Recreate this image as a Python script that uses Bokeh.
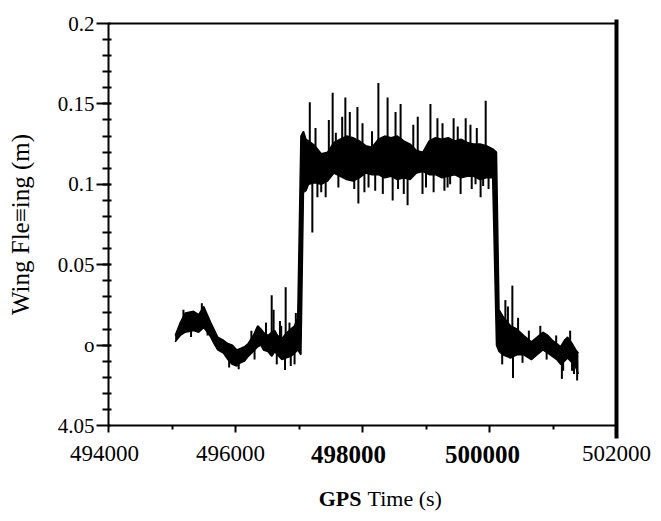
import numpy as np
from bokeh.plotting import figure
from bokeh.models import Range1d, FixedTicker, LinearAxis
from bokeh.core.properties import value
from bokeh.embed import file_html
from bokeh.resources import INLINE

# ---------------- data ----------------
x_ticks = [494000, 496000, 498000, 500000, 502000]
x_minor = [495000, 497000, 499000, 501000]
x_tick_labels = ["494000", "496000", "498000", "500000", "502000"]
x_tick_bold = [False, False, True, True, False]
y_ticks = [-0.05, 0.0, 0.05, 0.1, 0.15, 0.2]
y_tick_labels = ["4.05", "o", "0.05", "0.1", "0.15", "0.2"]
y_title = "Wing Fle\u2261ing (m)"
x_title_bold = "GPS"
x_title_rest = "Time (s)"

# envelope of the wing-flexing trace (before the step)
pre_t = [495050, 495130, 495210, 495340, 495420, 495500, 495610, 495660, 495720, 495810,
         495880, 495950, 496020, 496080, 496140, 496200, 496280, 496350, 496400, 496440,
         496510, 496570, 496620, 496660, 496730, 496790, 496870, 496930, 496980]
pre_hi = [0.006, 0.014, 0.020, 0.021, 0.019, 0.024, 0.014, 0.010, 0.005, 0.003,
          0.001, 0.000, -0.003, -0.002, -0.001, 0.001, 0.006, 0.012, 0.010, 0.008,
          0.006, 0.008, 0.009, 0.006, 0.004, 0.007, 0.010, 0.012, 0.017]
pre_lo = [0.002, 0.006, 0.008, 0.009, 0.008, 0.011, 0.005, 0.001, -0.003, -0.005,
          -0.009, -0.012, -0.013, -0.011, -0.010, -0.007, -0.004, -0.001, 0.000, -0.003,
          -0.004, -0.007, -0.004, -0.006, -0.009, -0.008, -0.007, -0.005, -0.003]

# plateau
plat_t = [497030, 497070, 497110, 497150, 497250, 497350, 497450, 497550, 497650, 497750,
          497850, 497950, 498050, 498150, 498250, 498350, 498450, 498550, 498650, 498750,
          498850, 498950, 499050, 499150, 499250, 499350, 499450, 499550, 499650, 499750,
          499850, 499950, 500050, 500110]
plat_hi = [0.130, 0.133, 0.128, 0.127, 0.124, 0.119, 0.120, 0.126, 0.128, 0.130,
           0.129, 0.127, 0.124, 0.123, 0.128, 0.130, 0.129, 0.130, 0.127, 0.125,
           0.121, 0.120, 0.127, 0.129, 0.128, 0.129, 0.127, 0.128, 0.126, 0.125,
           0.125, 0.124, 0.122, 0.120]
plat_lo = [-0.006, 0.095, 0.096, 0.100, 0.101, 0.100, 0.102, 0.107, 0.105, 0.103,
           0.102, 0.104, 0.107, 0.106, 0.106, 0.104, 0.105, 0.103, 0.104, 0.103,
           0.107, 0.108, 0.106, 0.106, 0.104, 0.105, 0.106, 0.104, 0.105, 0.105,
           0.103, 0.104, 0.104, 0.000]

# after the step
post_t = [500150, 500210, 500330, 500430, 500540, 500660, 500750, 500840, 500920, 500990,
          501060, 501120, 501180, 501230, 501300, 501360, 501400]
post_hi = [0.022, 0.018, 0.012, 0.010, 0.006, 0.002, 0.005, 0.008, 0.006, 0.003,
           0.001, -0.001, 0.003, 0.005, 0.001, -0.003, -0.005]
post_lo = [-0.004, -0.006, -0.008, -0.006, -0.006, -0.009, -0.006, -0.003, -0.005, -0.007,
           -0.009, -0.012, -0.010, -0.008, -0.011, -0.014, -0.018]

# spikes (time, extreme value)
spike_t = [495180, 495300, 495470, 495560, 495900, 496050, 496250, 496300,
           496480, 496570, 496600, 496650, 496700, 496720, 496780, 496790, 496850, 496870,
           496930, 496950,
           497170, 497210, 497260, 497290, 497350, 497420, 497470, 497530, 497580, 497620,
           497680, 497730, 497800, 497870, 497920, 497935, 498000, 498030, 498095, 498150,
           498200, 498250, 498320, 498395, 498475, 498520, 498560, 498600, 498650, 498710,
           498800, 498870, 498945, 499000, 499070, 499120, 499180, 499260, 499290, 499340,
           499380, 499435, 499500, 499545, 499625, 499700, 499720, 499780, 499800, 499860,
           499900, 499940, 499985,
           500200, 500250, 500290, 500360, 500370, 500450, 500520, 500620, 500800, 500900,
           501050, 501140, 501160, 501270, 501300, 501330, 501380]
spike_v = [0.022, 0.005, 0.026, 0.006, -0.014, -0.015, 0.009, -0.009,
           0.014, 0.031, 0.022, -0.012, 0.015, 0.012, -0.0155, 0.036, 0.014, -0.013,
           -0.012, 0.020,
           0.151, 0.070, 0.135, 0.092, 0.095, 0.092, 0.140, 0.157, 0.132, 0.098,
           0.142, 0.154, 0.145, 0.097, 0.148, 0.088, 0.138, 0.095, 0.098, 0.133,
           0.096, 0.163, 0.094, 0.154, 0.090, 0.145, 0.097, 0.150, 0.094, 0.087,
           0.137, 0.142, 0.094, 0.098, 0.150, 0.095, 0.141, 0.138, 0.096, 0.098,
           0.100, 0.141, 0.136, 0.094, 0.141, 0.137, 0.097, 0.100, 0.135, 0.092,
           0.099, 0.152, 0.097,
           -0.012, 0.028, 0.024, 0.037, -0.0205, 0.017, -0.011, 0.009, 0.012, -0.009,
           0.006, -0.021, -0.016, 0.009, -0.016, -0.018, -0.022]

t_env = np.array(pre_t + plat_t + post_t, dtype=float)
hi_env = np.array(pre_hi + plat_hi + post_hi)
lo_env = np.array(pre_lo + plat_lo + post_lo)
mid_env = (hi_env + lo_env) / 2
spike_base = np.interp(spike_t, t_env, mid_env)

# ---------------- layout (pixels) ----------------
W, H = 653, 513
AX_L, AX_R = 108, 616      # canvas px of x = 494000 / 502000
AX_T, AX_B = 23, 425       # canvas px of y = 0.2 / -0.05
x0, x1 = x_ticks[0], x_ticks[-1]
y0, y1 = y_ticks[0], y_ticks[-1]
ux = (x1 - x0) / (AX_R - AX_L)
uy = (y1 - y0) / (AX_B - AX_T)
xr = Range1d(x0 - AX_L * ux, x1 + (W - AX_R) * ux)
yr = Range1d(y0 - (H - AX_B) * uy, y1 + AX_T * uy)

FONT = "Liberation Serif"
p = figure(width=W, height=H, output_backend="svg", toolbar_location=None,
           x_range=xr, y_range=yr, x_axis_location=None, y_axis_location=None,
           min_border=0, min_border_left=0, min_border_right=0,
           min_border_top=0, min_border_bottom=0,
           background_fill_color="white", border_fill_color="white")
p.grid.grid_line_color = None
p.outline_line_color = None

xa = LinearAxis(fixed_location=y0, bounds=(x0, x1),
                ticker=FixedTicker(ticks=x_ticks, minor_ticks=x_minor),
                major_label_overrides={t: "" for t in x_ticks},
                axis_line_width=2, axis_line_color="black",
                major_tick_line_width=2, major_tick_out=7, major_tick_in=0,
                minor_tick_line_width=2, minor_tick_out=4, minor_tick_in=0)
p.add_layout(xa, "below")

ya = LinearAxis(fixed_location=x0, bounds=(y0, y1),
                ticker=FixedTicker(ticks=y_ticks,
                                   minor_ticks=[round(v, 2) for v in np.arange(-0.04, 0.2, 0.01)]),
                major_label_overrides=dict(zip(y_ticks, y_tick_labels)),
                axis_line_width=2, axis_line_color="black",
                major_tick_line_width=2, major_tick_out=12, major_tick_in=2,
                minor_tick_line_width=2, minor_tick_out=6, minor_tick_in=3,
                major_label_standoff=2, major_label_text_font=FONT,
                major_label_text_font_size="21px", major_label_text_color="black")
p.add_layout(ya, "left")

top_ax = LinearAxis(fixed_location=y1, bounds=(x0, x1), ticker=FixedTicker(ticks=[]),
                    axis_line_width=2, axis_line_color="black")
p.add_layout(top_ax, "above")
right_ax = LinearAxis(fixed_location=x1, bounds=(y0 - 13 * uy, y1 + 4 * uy),
                      ticker=FixedTicker(ticks=[]), axis_line_width=4, axis_line_color="black")
p.add_layout(right_ax, "right")

# trace
p.varea(x=t_env, y1=lo_env, y2=hi_env, fill_color="black")
p.line(t_env, hi_env, line_color="black", line_width=1.5)
p.line(t_env, lo_env, line_color="black", line_width=1.5)
p.segment(x0=spike_t, y0=spike_base, x1=spike_t, y1=spike_v, line_color="black", line_width=2)

# x tick labels
xtick_dx = [-4, -5, -14, -7, 0]
for bold in (False, True):
    sel = [i for i, b in enumerate(x_tick_bold) if b == bold]
    p.text(x=[x_ticks[i] + xtick_dx[i] * ux for i in sel],
           y=[y0 - 20 * uy] * len(sel),
           text=[x_tick_labels[i] for i in sel],
           text_font=value(FONT), text_font_size=value("25px" if bold else "23px"),
           text_font_style="bold" if bold else "normal",
           text_align="center", text_baseline="top", text_color="black")

# axis titles
xc = (x0 + x1) / 2
p.text(x=[xc - 1 * ux], y=[y0 - 73 * uy], text=[x_title_bold], text_font=value(FONT),
       text_font_size=value("22px"), text_font_style="bold",
       text_align="right", text_baseline="alphabetic", text_color="black")
p.text(x=[xc + 5 * ux], y=[y0 - 73 * uy], text=[x_title_rest], text_font=value(FONT),
       text_font_size=value("22px"), text_font_style="normal",
       text_align="left", text_baseline="alphabetic", text_color="black")
p.text(x=[x0 - 88 * ux], y=[(y0 + y1) / 2], text=[y_title], angle=np.pi / 2,
       text_font=value(FONT), text_font_size=value("25px"), text_font_style="normal",
       text_align="center", text_baseline="alphabetic", text_color="black")

open("out.html", "w").write(file_html(p, INLINE))
